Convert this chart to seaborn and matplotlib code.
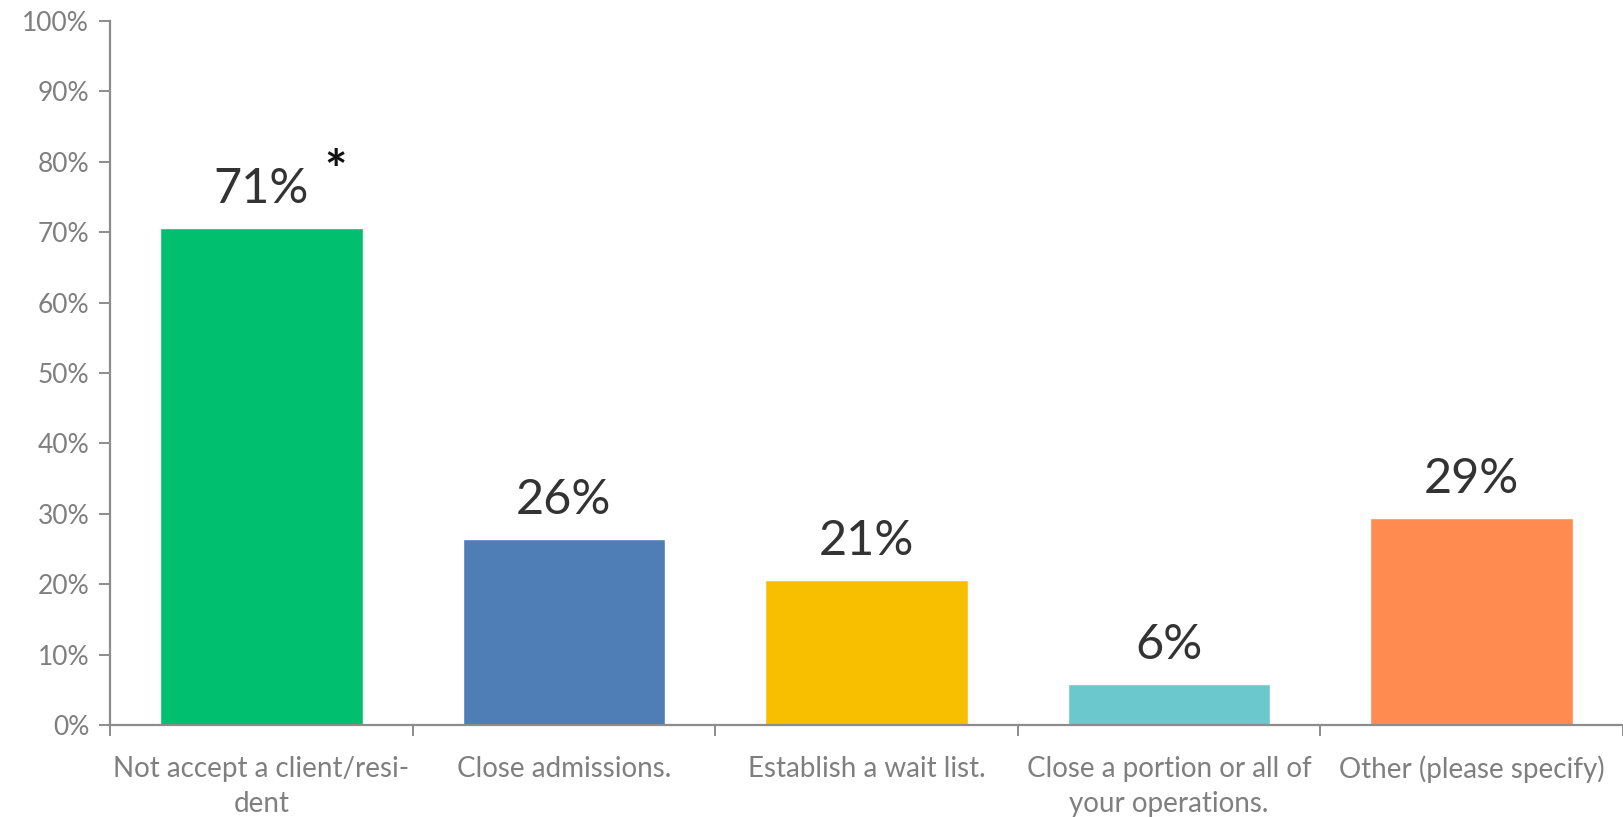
import matplotlib
matplotlib.use("Agg")
import matplotlib.pyplot as plt
import seaborn as sns
import pandas as pd
import numpy as np
from matplotlib.ticker import FixedLocator, PercentFormatter

categories = ["Not accept a client/resi-\ndent", "Close admissions.", "Establish a wait list.",
              "Close a portion or all of\nyour operations.", "Other (please specify)"]
values = [70.6, 26.4, 20.6, 5.8, 29.4]
value_labels = ["71%", "26%", "21%", "6%", "29%"]
colors = ["#00BF6F", "#4F7DB5", "#F8BE00", "#6BC8CD", "#FF8B50"]
yticks = [0, 10, 20, 30, 40, 50, 60, 70, 80, 90, 100]

sns.set_theme(style="white")
plt.rcParams["font.family"] = ["Lato", "DejaVu Sans"]

df = pd.DataFrame({"cat": categories, "val": values})

fig = plt.figure(figsize=(16.23, 8.17), dpi=100)
ax = fig.add_axes([110/1623, 1 - 725/817, 1 - 110/1623, (725 - 21)/817])

sns.barplot(data=df, x="cat", y="val", hue="cat", palette=colors, width=0.67,
            legend=False, ax=ax, saturation=1)

for cont, lab in zip(ax.containers, value_labels):
    ax.bar_label(cont, labels=[lab], padding=12.5, fontsize=35, color="#333333")

ax.text(0.245, values[0] + 7.8, "*", fontsize=38, fontweight="bold", color="#111111",
        ha="center", va="center")

ax.set_xlim(-0.5, len(categories) - 0.5)
ax.set_ylim(0, 100)
ax.set_yticks(yticks)
ax.yaxis.set_major_formatter(PercentFormatter(decimals=0))
ax.set_xlabel("")
ax.set_ylabel("")

spine_col = "#8C8C8C"
for s in ["top", "right"]:
    ax.spines[s].set_visible(False)
for s in ["left", "bottom"]:
    ax.spines[s].set_color(spine_col)
    ax.spines[s].set_linewidth(1.6)

ax.tick_params(axis="y", which="major", left=True, length=8, width=1.4, color=spine_col,
               labelsize=19, labelcolor="#7F7F7F", pad=7)
ax.tick_params(axis="x", which="major", bottom=False, length=0, labelsize=20,
               labelcolor="#7F7F7F", pad=22)
ax.xaxis.set_minor_locator(FixedLocator(np.arange(-0.5, len(categories), 1.0)))
ax.tick_params(axis="x", which="minor", bottom=True, length=8, width=1.4, color=spine_col)
for t in ax.get_xticklabels():
    t.set_linespacing(1.45)

fig.savefig("out.png", dpi=100)
